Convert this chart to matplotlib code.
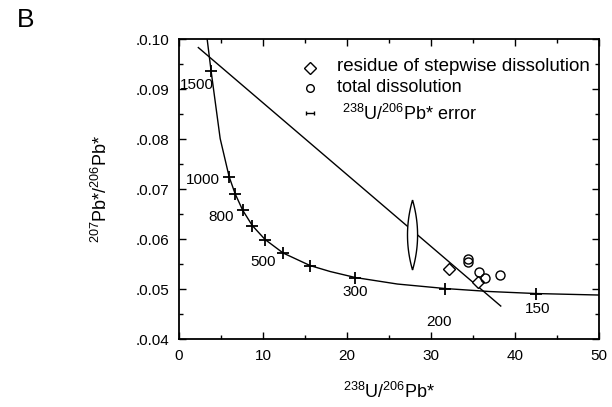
import numpy as np
import matplotlib.pyplot as plt
from matplotlib.patches import Polygon

plt.rcParams['font.family'] = ['Liberation Sans', 'DejaVu Sans']
plt.rcParams['mathtext.default'] = 'regular'

# concordia curve (238U/206Pb*, 207Pb*/206Pb*)
curve_x = [3.35, 3.82, 4.9, 5.96, 6.67, 7.57, 8.72, 10.25, 12.4, 15.6, 18.0, 21.0, 26.0, 31.7, 37.0, 42.5, 50.0]
curve_y = [0.1000, 0.0936, 0.0801, 0.0725, 0.0691, 0.0658, 0.0627, 0.0599, 0.0572, 0.0547, 0.0535, 0.0523, 0.0510, 0.0501, 0.0495, 0.0491, 0.0488]

# age ticks on the concordia (Ma)
tick_ages = [1500, 1000, 900, 800, 700, 600, 500, 400, 300, 200, 150]
tick_x = [3.82, 5.96, 6.67, 7.57, 8.72, 10.25, 12.4, 15.6, 21.0, 31.7, 42.5]
tick_y = [0.0936, 0.0725, 0.0691, 0.0658, 0.0627, 0.0599, 0.0572, 0.0547, 0.0523, 0.0501, 0.0491]
labelled_ages = [1500, 1000, 800, 500, 300, 200, 150]

# discordia line end points
disc_x = [2.3, 38.3]
disc_y = [0.0983, 0.0466]

# residue of stepwise dissolution
resid_x = [32.1, 35.6]
resid_y = [0.0540, 0.0514]

# total dissolution
total_x = [34.4, 34.4, 35.7, 36.4, 38.2]
total_y = [0.0560, 0.0554, 0.0535, 0.0523, 0.0528]

# 238U/206Pb* error lens
err_x, err_y = 27.8, 0.0608
err_dx, err_dy = 0.6, 0.0070

fig = plt.figure(figsize=(6.12, 4.07), dpi=100)
ax = fig.add_axes([0.2925, 0.167, 0.6863, 0.737])

ax.plot(curve_x, curve_y, color='black', lw=1.0)
ax.plot(tick_x, tick_y, ls='none', marker='+', ms=8, mew=1.3, color='black')
ax.plot(disc_x, disc_y, color='black', lw=1.0)

# error lens (pointed at top and bottom)
t = np.linspace(-1, 1, 41)
half = err_dx * (1 - t ** 2)
lens = np.concatenate([np.column_stack([err_x + half, err_y + err_dy * t]),
                       np.column_stack([err_x - half[::-1], err_y + err_dy * t[::-1]])])
ax.add_patch(Polygon(lens, closed=True, fill=True, facecolor='white', edgecolor='black', lw=1.0, zorder=3))

ax.plot(resid_x, resid_y, ls='none', marker='D', ms=6.5, mfc='white', mec='black', mew=1.0, zorder=4)
ax.plot(total_x, total_y, ls='none', marker='o', ms=6.5, mfc='none', mec='black', mew=1.0, zorder=4)

# age labels (offsets in pixels from the tick)
offsets = {1500: (-14, -14), 1000: (-26, -3), 800: (-21, -7), 500: (-20, -9),
           300: (0, -14), 200: (-6, -33), 150: (2, -15)}
for age, x, y in zip(tick_ages, tick_x, tick_y):
    if age in labelled_ages:
        ax.annotate(str(age), (x, y), xytext=offsets[age], textcoords='offset pixels',
                    ha='center', va='center', fontsize=11)

# legend drawn by hand
lx, tx = 0.312, 0.375
ax.plot([lx], [0.904], transform=ax.transAxes, marker='D', ms=6, mfc='white', mec='black', mew=1.0, clip_on=False)
ax.text(tx, 0.91, 'residue of stepwise dissolution', transform=ax.transAxes, va='center', fontsize=13.5)
ax.plot([lx], [0.837], transform=ax.transAxes, marker='o', ms=5.5, mfc='none', mec='black', mew=1.0, clip_on=False)
ax.text(tx, 0.84, 'total dissolution', transform=ax.transAxes, va='center', fontsize=13)
ax.errorbar([lx], [0.755], xerr=[0.009], transform=ax.transAxes, fmt='none', ecolor='black',
            elinewidth=1.0, capsize=1.5, capthick=1.0)
ax.text(tx + 0.013, 0.75, r'$^{238}$U/$^{206}$Pb* error', transform=ax.transAxes, va='center', fontsize=13)

ax.set_xlim(0, 50)
ax.set_ylim(0.04, 0.10)
ax.set_xticks([0, 10, 20, 30, 40, 50])
ax.set_xticks([5, 15, 25, 35, 45], minor=True)
yt = [0.04, 0.05, 0.06, 0.07, 0.08, 0.09, 0.10]
ax.set_yticks(yt)
ax.set_yticklabels(['.0.%02d' % round(v * 100) for v in yt])
ax.set_yticks([0.045, 0.055, 0.065, 0.075, 0.085, 0.095], minor=True)
ax.tick_params(which='both', direction='in', top=True, right=True, labelsize=11, pad=7)
ax.tick_params(which='major', length=5, width=1.0)
ax.tick_params(which='minor', length=3, width=1.0)
for s in ax.spines.values():
    s.set_linewidth(1.3)

ax.set_xlabel(r'$^{238}$U/$^{206}$Pb*', fontsize=13, labelpad=14)
ax.set_ylabel(r'$^{207}$Pb*/$^{206}$Pb*', fontsize=13, labelpad=18)
fig.text(0.028, 0.95, 'B', fontsize=19, va='center')

fig.savefig('out.png', dpi=100)
